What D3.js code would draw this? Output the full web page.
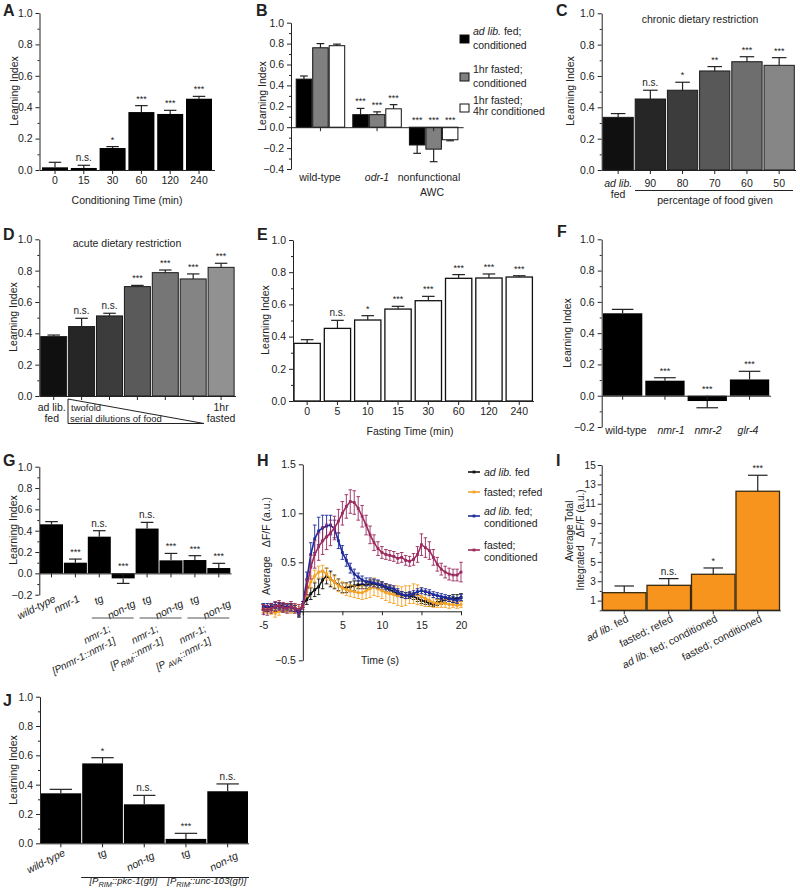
<!DOCTYPE html>
<html><head><meta charset="utf-8">
<script src="https://cdn.jsdelivr.net/npm/d3@7"></script>
<style>body{margin:0;background:#fff}svg{display:block}</style>
</head><body><svg id="fig" width="800" height="889"></svg>
<script>
// ================= DATA =================
// A
const aCats = ["0","15","30","60","120","240"];
const aVals = [0.017,0.013,0.14,0.369,0.357,0.454];
const aErrs = [0.032,0.017,0.009,0.041,0.023,0.015];
const aStars = ["","n.s.","*","***","***","***"];
// B
const bGroups = ["wild-type","odr-1","nonfunctional AWC"];
const bSeries = ["ad lib. fed; conditioned","1hr fasted; conditioned","1hr fasted; 4hr conditioned"];
const bFed = [0.46,0.12,-0.17], bFedErr = [0.03,0.06,0.08];
const bFast = [0.76,0.12,-0.21], bFastErr = [0.04,0.027,0.12];
const bFast4 = [0.78,0.176,-0.12], bFast4Err = [0.015,0.04,0.01];
const bStars = [["","",""],["***","***","***"],["***","***","***"]];
// C
const cCats = ["ad lib. fed","90","80","70","60","50"];
const cVals = [0.336,0.453,0.509,0.632,0.691,0.668];
const cErrs = [0.024,0.056,0.051,0.028,0.032,0.049];
const cStars = ["","n.s.","*","**","***","***"];
// D
const dCats = ["ad lib. fed","d1","d2","d3","d4","d5","1hr fasted"];
const dVals = [0.379,0.443,0.511,0.698,0.787,0.747,0.821];
const dErrs = [0.010,0.053,0.017,0.008,0.017,0.032,0.026];
const dStars = ["","n.s.","n.s.","***","***","***","***"];
// E
const eCats = ["0","5","10","15","30","60","120","240"];
const eVals = [0.358,0.451,0.503,0.571,0.623,0.762,0.764,0.770];
const eErrs = [0.023,0.050,0.027,0.017,0.027,0.023,0.025,0.008];
const eStars = ["","n.s.","*","***","***","***","***","***"];
// F
const fCats = ["wild-type","<i>nmr-1</i>","<i>nmr-2</i>","<i>glr-4</i>"];
const fVals = [0.527,0.096,-0.034,0.104];
const fErrs = [0.025,0.019,0.043,0.052];
const fStars = ["","***","***","***"];
// G
const gCats = ["wild-type","nmr-1","tg","non-tg","tg","non-tg","tg","non-tg"];
const gVals = [0.46,0.10,0.344,-0.047,0.42,0.122,0.125,0.05];
const gErrs = [0.025,0.034,0.056,0.047,0.058,0.065,0.041,0.044];
const gStars = ["","***","n.s.","***","n.s.","***","***","***"];
const gGroups = [["nmr-1;","[Pnmr-1::nmr-1]"],["nmr-1;","[P<sub>RIM</sub>::nmr-1]"],["nmr-1;","[P<sub> AVA</sub>::nmr-1]"]];
// H
const hTime = [-5,-4.5,-4,-3.5,-3,-2.5,-2,-1.5,-1,-0.5,0,0.5,1,1.5,2,2.5,3,3.5,4,4.5,5,5.5,6,6.5,7,7.5,8,8.5,9,9.5,10,10.5,11,11.5,12,12.5,13,13.5,14,14.5,15,15.5,16,16.5,17,17.5,18,18.5,19,19.5,20];
const hNames = ["<i>ad lib.</i> fed","fasted; refed","<i>ad lib.</i> fed;|conditioned","fasted;|conditioned"];
const hFed = [0.04,0.03,0.05,0.04,0.06,0.05,0.04,0.05,0.03,-0.03,
  0.07,0.12,0.18,0.22,0.25,0.32,0.36,0.33,0.30,0.27,0.24,0.24,0.25,0.26,0.27,0.27,0.27,0.28,0.28,0.27,
  0.26,0.24,0.22,0.20,0.18,0.17,0.16,0.16,0.15,0.13,0.11,0.10,0.08,0.07,0.09,0.10,0.12,0.13,0.13,0.13,0.14];
const hFedErr = [0.03,0.03,0.03,0.03,0.03,0.03,0.03,0.03,0.03,0.03,
  0.03,0.05,0.06,0.07,0.08,0.09,0.08,0.08,0.07,0.06,0.05,0.05,0.05,0.05,0.04,0.04,0.04,0.04,0.04,0.04,
  0.04,0.04,0.04,0.03,0.03,0.03,0.03,0.03,0.03,0.03,0.03,0.03,0.03,0.02,0.03,0.03,0.03,0.03,0.04,0.04,0.04];
const hRefed = [0.03,0.02,0.01,-0.02,0.00,0.03,0.04,0.02,0.03,0.01,
  0.07,0.20,0.30,0.36,0.40,0.41,0.38,0.33,0.30,0.26,0.24,0.22,0.21,0.20,0.19,0.19,0.21,0.23,0.25,0.23,
  0.21,0.19,0.18,0.17,0.16,0.15,0.16,0.17,0.18,0.17,0.15,0.13,0.11,0.09,0.08,0.08,0.08,0.07,0.07,0.06,0.07];
const hRefedErr = [0.04,0.04,0.04,0.04,0.04,0.04,0.04,0.04,0.04,0.04,
  0.03,0.05,0.06,0.06,0.06,0.06,0.06,0.06,0.06,0.06,0.06,0.06,0.06,0.06,0.06,0.07,0.08,0.09,0.09,0.08,
  0.08,0.08,0.09,0.09,0.10,0.10,0.10,0.09,0.10,0.10,0.09,0.08,0.06,0.05,0.04,0.04,0.04,0.04,0.03,0.03,0.03];
const hFedCond = [0.05,0.05,0.04,0.06,0.05,0.04,0.05,0.04,0.03,-0.02,
  0.07,0.32,0.58,0.74,0.82,0.85,0.87,0.88,0.84,0.72,0.60,0.52,0.44,0.38,0.35,0.32,0.30,0.30,0.29,0.28,
  0.27,0.25,0.24,0.23,0.20,0.17,0.16,0.17,0.18,0.20,0.21,0.20,0.19,0.17,0.16,0.15,0.14,0.13,0.12,0.11,0.14];
const hFedCondErr = [0.03,0.03,0.03,0.03,0.03,0.03,0.03,0.03,0.03,0.03,
  0.03,0.08,0.12,0.14,0.14,0.13,0.11,0.10,0.09,0.08,0.07,0.06,0.05,0.05,0.04,0.04,0.04,0.04,0.04,0.04,
  0.03,0.03,0.03,0.03,0.03,0.03,0.03,0.03,0.03,0.03,0.03,0.03,0.03,0.03,0.03,0.03,0.03,0.03,0.03,0.03,0.03];
const hFastCond = [0.02,0.01,0.03,0.05,0.06,0.04,0.03,0.05,0.03,0.02,
  0.05,0.25,0.45,0.58,0.66,0.72,0.76,0.80,0.85,0.92,1.00,1.07,1.12,1.11,1.05,0.97,0.88,0.78,0.70,0.64,
  0.60,0.58,0.57,0.56,0.54,0.55,0.52,0.51,0.53,0.58,0.68,0.65,0.62,0.55,0.48,0.43,0.40,0.38,0.37,0.37,0.40];
const hFastCondErr = [0.05,0.05,0.05,0.05,0.05,0.05,0.05,0.05,0.05,0.05,
  0.03,0.08,0.12,0.14,0.14,0.14,0.13,0.13,0.12,0.12,0.12,0.12,0.12,0.12,0.12,0.11,0.10,0.09,0.08,0.07,
  0.06,0.05,0.05,0.05,0.05,0.05,0.05,0.05,0.06,0.08,0.11,0.10,0.09,0.08,0.07,0.06,0.06,0.06,0.06,0.06,0.10];
// I
const iCats = ["<i>ad lib.</i>  fed","fasted; refed","<i>ad lib.</i> fed; conditioned","fasted; conditioned"];
const iVals = [1.82,2.58,3.72,12.29];
const iErrs = [0.69,0.69,0.65,1.65];
const iStars = ["","n.s.","*","***"];
// J
const jCats = ["wild-type","tg","non-tg","tg","non-tg"];
const jVals = [0.341,0.545,0.266,0.030,0.355];
const jErrs = [0.027,0.039,0.061,0.038,0.05];
const jStars = ["","*","n.s.","***","n.s."];
const jGroups = ["[P<sub>RIM</sub>::pkc-1(gf)]","[P<sub>RIM</sub>::unc-103(gf)]"];

// ================= DRAWING =================
const FONT = '"Liberation Sans", Arial, Helvetica, sans-serif';
const FS = 10.5, INK = "#222";
const svg = d3.select("#fig").attr("font-family", FONT);

function rich(t, str) {
  const re = /<(i|sub)>(.*?)<\/\1>|([^<]+)/g; let m, pend = 0;
  while ((m = re.exec(str))) {
    const ts = t.append("tspan");
    if (pend) { ts.attr("dy", pend); pend = 0; }
    if (m[3] !== undefined) ts.text(m[3]);
    else if (m[1] === "i") ts.attr("font-style","italic").text(m[2]);
    else { ts.attr("font-size","0.78em").attr("dy", 3).text(m[2]); pend = -3; }
  }
  return t;
}
function txt(g, x, y, str, o = {}) {
  const t = g.append("text").attr("x", x).attr("y", y).attr("font-size", o.fs || FS)
    .attr("fill", INK).attr("text-anchor", o.anchor || "middle");
  if (o.italic) t.attr("font-style","italic");
  if (o.bold) t.attr("font-weight","bold");
  if (o.rot) t.attr("transform", `rotate(${o.rot},${x},${y})`);
  if (o.dy) t.attr("dy", o.dy);
  return rich(t, str);
}
function bandFor(n, x0, first, step, bw) {
  const pi = 1 - bw / step, po = (first - x0) / step;
  const r1 = x0 + step * (n - pi + 2 * po);
  return d3.scaleBand().domain(d3.range(n)).range([x0, r1]).paddingInner(pi).paddingOuter(po);
}
function styleAxis(a, fs) {
  a.attr("font-family", FONT).attr("font-size", fs || FS);
  a.selectAll("path,line").attr("stroke", INK).attr("stroke-width", 1);
  a.selectAll("text").attr("fill", INK);
}
function yAxis(g, y, x0, majors, minors, fmt, fs, pad) {
  const a = g.append("g").attr("transform", `translate(${x0},0)`)
    .call(d3.axisLeft(y).tickValues(majors).tickFormat(fmt).tickSize(4).tickSizeOuter(0).tickPadding(pad === undefined ? 3 : pad));
  styleAxis(a, fs);
  if (minors && minors.length) {
    const m = g.append("g").attr("transform", `translate(${x0},0)`)
      .call(d3.axisLeft(y).tickValues(minors).tickFormat("").tickSize(2).tickSizeOuter(0));
    m.select(".domain").remove(); styleAxis(m);
  }
}
function xAxis(g, x, yPix) {
  const a = g.append("g").attr("transform", `translate(0,${yPix})`)
    .call(d3.axisBottom(x).tickSize(4).tickSizeOuter(0).tickFormat(""));
  styleAxis(a);
}
function bars(g, x, y, vals, errs, stars, o) {
  const bw = x.bandwidth(), offs = o.offset || 0, w = o.width || bw;
  const idx = d3.range(vals.length);
  g.selectAll(null).data(idx).join("rect")
    .attr("x", i => x(i) + offs).attr("width", w)
    .attr("y", i => y(Math.max(0, vals[i])))
    .attr("height", i => Math.abs(y(vals[i]) - y(0)))
    .attr("fill", i => o.fill(i)).attr("stroke", o.stroke || "none").attr("stroke-width", o.sw || 1);
  const cap = w * (o.cap || 0.48);
  idx.forEach(i => {
    const v = vals[i], e = errs[i], cx = x(i) + offs + w / 2;
    const tip = v >= 0 ? v + e : v - e;
    g.append("line").attr("x1", cx).attr("x2", cx).attr("y1", y(v)).attr("y2", y(tip))
      .attr("stroke", INK).attr("stroke-width", 1.2);
    g.append("line").attr("x1", cx - cap / 2).attr("x2", cx + cap / 2).attr("y1", y(tip)).attr("y2", y(tip))
      .attr("stroke", INK).attr("stroke-width", 1.2);
    if (stars[i]) {
      const sy = v >= 0 ? y(tip) - 4 : y(0) - 4;
      txt(g, cx, sy, stars[i], { fs: stars[i] === "n.s." ? 10 : 9 });
    }
  });
}
function yTitle(g, x, yc, str, fs) { return txt(g, x, yc, str, { rot: -90, dy: "0.35em", fs }); }
function letter(g, x, y, s) { txt(g, x, y, s, { anchor: "start", bold: true, fs: 16 }); }
const tickFmt = d3.format(".1f");
const lin = (a, b, s) => d3.range(Math.round((b - a) / s) + 1).map(k => +(a + k * s).toFixed(3));

// ---------- A ----------
{
  const g = svg.append("g");
  const x = bandFor(aCats.length, 39.5, 42, 28.8, 26);
  const y = d3.scaleLinear().domain([0, 1]).range([170, 13]);
  bars(g, x, y, aVals, aErrs, aStars, { fill: () => "#000" });
  yAxis(g, y, 39.5, lin(0, 1, 0.2), lin(0.1, 0.9, 0.2), tickFmt);
  xAxis(g, x, y(0));
  aCats.forEach((c, i) => txt(g, x(i) + x.bandwidth() / 2, 184, c));
  txt(g, 127, 204, "Conditioning Time (min)");
  yTitle(g, 14, 91, "Learning Index");
  letter(g, 3, 16, "A");
}
// ---------- B ----------
{
  const g = svg.append("g");
  const x = bandFor(bGroups.length, 291, 295.7, 56.6, 49.5);
  const y = d3.scaleLinear().domain([-0.4, 1]).range([169, 22.7]);
  const sw = x.bandwidth() / 3;
  const series = [[bFed, bFedErr, "#000"], [bFast, bFastErr, "#808080"], [bFast4, bFast4Err, "#fff"]];
  series.forEach((s, k) => bars(g, x, y, s[0], s[1], bGroups.map((_, gi) => bStars[gi][k]),
    { fill: () => s[2], stroke: "#111", sw: 1, offset: k * sw + 0.5, width: sw - 1, cap: 0.5 }));
  yAxis(g, y, 291, lin(-0.4, 1, 0.2), lin(-0.3, 0.9, 0.2), tickFmt);
  xAxis(g, x, y(0));
  txt(g, 320, 181, "wild-type");
  txt(g, 377, 181, "odr-1", { italic: true });
  txt(g, 429, 181, "nonfunctional");
  txt(g, 432, 196, "AWC");
  yTitle(g, 262, 96, "Learning Index");
  letter(g, 256, 16, "B");
  const legY = [35, 73, 104], legTxt = [["<i>ad lib.</i> fed;", "conditioned"], ["1hr fasted;", "conditioned"], ["1hr fasted;", "4hr conditioned"]];
  const legFill = ["#000", "#808080", "#fff"];
  bSeries.forEach((s, k) => {
    g.append("rect").attr("x", 460).attr("y", legY[k]).attr("width", 9).attr("height", 8)
      .attr("fill", legFill[k]).attr("stroke", "#111");
    txt(g, 473, legY[k] + 0, legTxt[k][0], { anchor: "start" });
    txt(g, 473, legY[k] + (k === 2 ? 11 : 14), legTxt[k][1], { anchor: "start" });
  });
}
// ---------- C ----------
{
  const g = svg.append("g");
  const x = bandFor(cCats.length, 601.7, 603, 32.2, 30.3);
  const y = d3.scaleLinear().domain([0, 1]).range([170, 13.3]);
  const fills = ["#101010", "#262626", "#3c3c3c", "#585858", "#6e6e6e", "#868686"];
  bars(g, x, y, cVals, cErrs, cStars, { fill: i => fills[i], stroke: "#1a1a1a", sw: 1 });
  yAxis(g, y, 601.7, lin(0, 1, 0.2), lin(0.1, 0.9, 0.2), tickFmt);
  xAxis(g, x, y(0));
  const cx = i => x(i) + x.bandwidth() / 2;
  txt(g, cx(0), 187, "ad lib.", { italic: true });
  txt(g, cx(0), 198, "fed");
  cCats.slice(1).forEach((c, i) => txt(g, cx(i + 1), 187, c));
  g.append("line").attr("x1", 635).attr("x2", 793).attr("y1", 190.5).attr("y2", 190.5).attr("stroke", INK);
  txt(g, 715, 204, "percentage of food given");
  txt(g, 700, 23, "chronic dietary restriction");
  yTitle(g, 570, 91, "Learning Index");
  letter(g, 556, 16, "C");
}
// ---------- D ----------
{
  const g = svg.append("g");
  const x = bandFor(dCats.length, 39.3, 40.7, 27.9, 26);
  const y = d3.scaleLinear().domain([0, 1]).range([396, 239.3]);
  const fills = ["#101010", "#262626", "#3c3c3c", "#5a5a5a", "#767676", "#848484", "#919191"];
  bars(g, x, y, dVals, dErrs, dStars, { fill: i => fills[i], stroke: "#1a1a1a", sw: 1 });
  yAxis(g, y, 39.3, lin(0, 1, 0.2), lin(0.1, 0.9, 0.2), tickFmt);
  xAxis(g, x, y(0));
  const cx = i => x(i) + x.bandwidth() / 2;
  txt(g, cx(0) - 2, 411, "ad lib.");
  txt(g, cx(0) - 2, 422, "fed");
  txt(g, cx(6), 411, "1hr");
  txt(g, cx(6), 422, "fasted");
  g.append("path").attr("d", "M68,399L204,423.5L68,423.5Z").attr("fill", "none").attr("stroke", INK);
  txt(g, 71, 411, "twofold", { anchor: "start", fs: 9.5 });
  txt(g, 70, 421.8, "serial dilutions of food", { anchor: "start", fs: 9.5 });
  txt(g, 127, 247, "acute dietary restriction");
  yTitle(g, 13, 317, "Learning Index");
  letter(g, 3, 240, "D");
}
// ---------- E ----------
{
  const g = svg.append("g");
  const x = bandFor(eCats.length, 293, 294, 30.3, 26.3);
  const y = d3.scaleLinear().domain([0, 1]).range([401, 240]);
  bars(g, x, y, eVals, eErrs, eStars, { fill: () => "#fff", stroke: "#111", sw: 1.3 });
  yAxis(g, y, 293, lin(0, 1, 0.2), lin(0.1, 0.9, 0.2), tickFmt);
  xAxis(g, x, y(0));
  eCats.forEach((c, i) => txt(g, x(i) + x.bandwidth() / 2, 415, c));
  txt(g, 410, 435, "Fasting Time (min)");
  yTitle(g, 265, 320, "Learning Index");
  letter(g, 257, 240, "E");
}
// ---------- F ----------
{
  const g = svg.append("g");
  const x = bandFor(fCats.length, 601.7, 603, 42.3, 39.3);
  const y = d3.scaleLinear().domain([-0.2, 1]).range([427, 239.3]);
  bars(g, x, y, fVals, fErrs, fStars, { fill: () => "#000", cap: 0.55 });
  yAxis(g, y, 601.7, lin(-0.2, 1, 0.2), lin(-0.1, 0.9, 0.2), tickFmt);
  xAxis(g, x, y(0));
  const lx = [626, 671, 708, 748];
  fCats.forEach((c, i) => txt(g, lx[i], 434, c));
  yTitle(g, 567, 333, "Learning Index");
  letter(g, 557, 237, "F");
}
// ---------- G ----------
{
  const g = svg.append("g");
  const x = bandFor(gCats.length, 39.3, 40, 23.9, 23);
  const y = d3.scaleLinear().domain([-0.2, 1]).range([594.7, 466.7]);
  bars(g, x, y, gVals, gErrs, gStars, { fill: () => "#000", cap: 0.55 });
  yAxis(g, y, 39.3, lin(-0.2, 1, 0.2), lin(-0.1, 0.9, 0.2), tickFmt);
  xAxis(g, x, y(0));
  const cx = i => x(i) + x.bandwidth() / 2;
  gCats.forEach((c, i) => {
    const non = c === "non-tg";
    txt(g, cx(i) + (non ? 13 : 5), non ? 606 : 601, c, { anchor: "end", rot: -27, italic: true });
  });
  [[2, 3], [4, 5], [6, 7]].forEach((p, k) => {
    const x1 = x(p[0]) + 4, x2 = x(p[1]) + x.bandwidth() - 1, gc = (x(p[0]) + x(p[1]) + x.bandwidth()) / 2;
    g.append("line").attr("x1", x1).attr("x2", x2).attr("y1", 618).attr("y2", 618).attr("stroke", "#555");
    txt(g, gc, 631, gGroups[k][0], { anchor: "end", rot: -27, italic: true, fs: 10 });
    txt(g, gc + 5, 643, gGroups[k][1], { anchor: "end", rot: -27, italic: true, fs: 10 });
  });
  yTitle(g, 13, 530, "Learning Index");
  letter(g, 3, 466, "G");
}
// ---------- H ----------
{
  const g = svg.append("g");
  const x = d3.scaleLinear().domain([-5, 20]).range([263.3, 461]);
  const y = d3.scaleLinear().domain([-0.5, 1.5]).range([660.3, 464.3]);
  const xa = g.append("g").attr("transform", `translate(0,${y(0)})`)
    .call(d3.axisBottom(x).tickValues([-5, 0, 5, 10, 15, 20]).tickFormat(d => d === 0 ? "" : d).tickSize(4).tickSizeOuter(0).tickPadding(6));
  styleAxis(xa);
  const ya = g.append("g").attr("transform", `translate(${x(0)},0)`)
    .call(d3.axisLeft(y).tickValues([-0.5, 0, 0.5, 1, 1.5]).tickFormat(d => d === 0 ? "" : tickFmt(d)).tickSize(4).tickSizeOuter(0));
  styleAxis(ya);
  const series = [[hFed, hFedErr, "#111"], [hRefed, hRefedErr, "#f4a326"], [hFedCond, hFedCondErr, "#1d2b9a"], [hFastCond, hFastCondErr, "#9b2a5e"]];
  const line = d3.line().x((d, i) => x(hTime[i])).y(d => y(d));
  series.forEach(s => {
    const sg = g.append("g");
    s[0].forEach((v, i) => {
      const px = x(hTime[i]);
      sg.append("line").attr("x1", px).attr("x2", px).attr("y1", y(v - s[1][i])).attr("y2", y(v + s[1][i])).attr("stroke", s[2]).attr("stroke-width", 0.9);
      [v - s[1][i], v + s[1][i]].forEach(e => sg.append("line").attr("x1", px - 1.8).attr("x2", px + 1.8).attr("y1", y(e)).attr("y2", y(e)).attr("stroke", s[2]).attr("stroke-width", 0.9));
    });
    sg.append("path").attr("d", line(s[0])).attr("fill", "none").attr("stroke", s[2]).attr("stroke-width", 1.6);
    sg.selectAll(null).data(s[0]).join("rect").attr("x", (d, i) => x(hTime[i]) - 1.4).attr("y", d => y(d) - 1.4)
      .attr("width", 2.8).attr("height", 2.8).attr("fill", s[2]);
  });
  const legY = [472, 492, 516, 550];
  hNames.forEach((n, k) => {
    const col = series[k][2];
    g.append("line").attr("x1", 468).attr("x2", 480).attr("y1", legY[k]).attr("y2", legY[k]).attr("stroke", col).attr("stroke-width", 1.6);
    g.append("rect").attr("x", 472.6).attr("y", legY[k] - 1.4).attr("width", 2.8).attr("height", 2.8).attr("fill", col);
    const parts = n.split("|");
    if (parts.length === 1) txt(g, 484, legY[k] + 4, parts[0], { anchor: "start" });
    else { txt(g, 484, legY[k] - 1, parts[0], { anchor: "start" }); txt(g, 484, legY[k] + 11, parts[1], { anchor: "start" }); }
  });
  txt(g, 380, 664, "Time (s)");
  const yt = g.append("text").attr("transform", "translate(266,546) rotate(-90)").attr("text-anchor", "middle")
    .attr("dy", "0.35em").attr("font-size", FS).attr("fill", INK);
  yt.append("tspan").text("Average");
  yt.append("tspan").attr("dx", 9).text("\u0394F/F (a.u.)");
  letter(g, 257, 466, "H");
}
// ---------- I ----------
{
  const g = svg.append("g");
  const x = bandFor(iCats.length, 601.7, 602.5, 44.5, 43.5);
  const y = d3.scaleLinear().domain([0, 15]).range([610.3, 465]);
  bars(g, x, y, iVals, iErrs, iStars, { fill: () => "#f7941d", stroke: "#3a2a10", sw: 1.3, cap: 0.45 });
  yAxis(g, y, 601.7, lin(1, 15, 2), lin(0, 14, 2), d3.format("d"), 10, 2);
  xAxis(g, x, y(0));
  const cx = i => x(i) + x.bandwidth() / 2;
  iCats.forEach((c, i) => txt(g, cx(i) + 5, 621, c, { anchor: "end", rot: -27 }));
  yTitle(g, 569, 531, "Average Total", 10);
  yTitle(g, 580, 540, "Integrated \u00a0\u00a0\u0394F/F (a.u.)", 10);
  letter(g, 556, 466, "I");
}
// ---------- J ----------
{
  const g = svg.append("g");
  const x = bandFor(jCats.length, 40, 40.5, 41.7, 40.7);
  const y = d3.scaleLinear().domain([0, 1]).range([843.3, 696.7]);
  bars(g, x, y, jVals, jErrs, jStars, { fill: () => "#000", cap: 0.55 });
  yAxis(g, y, 40, lin(0, 1, 0.2), lin(0.1, 0.9, 0.2), tickFmt);
  xAxis(g, x, y(0));
  const cx = i => x(i) + x.bandwidth() / 2;
  jCats.forEach((c, i) => {
    const non = c === "non-tg";
    txt(g, cx(i) + (non ? 11 : 5), non ? 858 : 855, c, { anchor: "end", rot: -27, italic: true });
  });
  [[1, 2], [3, 4]].forEach((p, k) => {
    const x1 = x(p[0]) - 1, x2 = x(p[1]) + x.bandwidth() + 1;
    g.append("line").attr("x1", x1).attr("x2", x2).attr("y1", 877.5).attr("y2", 877.5).attr("stroke", INK);
    txt(g, (x1 + x2) / 2, 884, jGroups[k], { italic: true, fs: 9.5 });
  });
  yTitle(g, 13, 770, "Learning Index");
  letter(g, 3, 706, "J");
}
</script></body></html>
